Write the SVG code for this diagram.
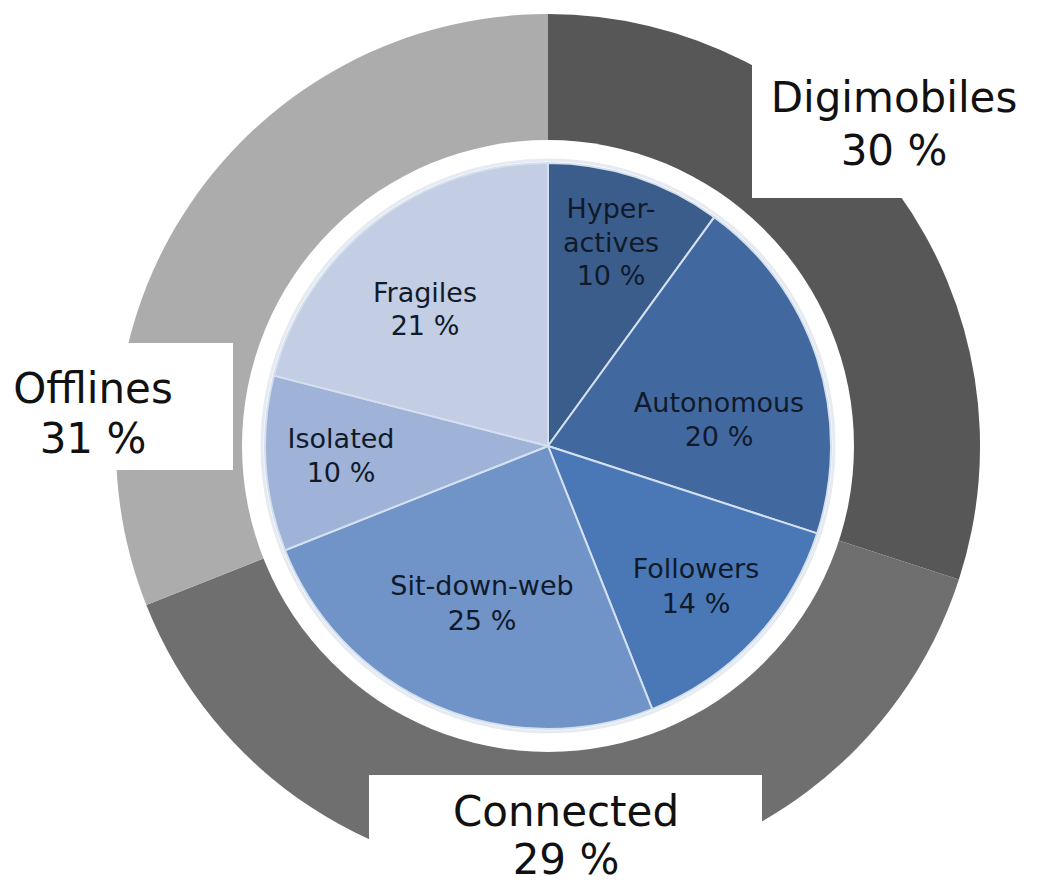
<svg xmlns="http://www.w3.org/2000/svg" width="1037" height="882" viewBox="0 0 1037 882">
<style>
.big{font-family:"DejaVu Sans","Liberation Sans",sans-serif;font-size:42px;fill:#111;text-anchor:middle}
.lbl{font-family:"DejaVu Sans","Liberation Sans",sans-serif;font-size:27px;fill:#101a2a;text-anchor:middle}
.sl{stroke:#d4e0ef;stroke-width:2;stroke-linejoin:round}
.box{fill:#ffffff}
</style>
<rect width="1037" height="882" fill="#ffffff"/>
<g id="ring">
<g id="ring-digimobiles"><path d="M548,446 L548,14 A432,432 0 0 1 958.9,579.5 Z" fill="#575757"/></g>
<g id="ring-connected"><path d="M548,446 L958.9,579.5 A432,432 0 0 1 146.3,605 Z" fill="#6f6f6f"/></g>
<g id="ring-offlines"><path d="M548,446 L146.3,605 A432,432 0 0 1 548,14 Z" fill="#acacac"/></g>
<circle cx="548" cy="446" r="306" fill="#ffffff"/>
<circle cx="548" cy="446" r="286" fill="none" stroke="#e6ebf2" stroke-width="3"/>
</g>
<g id="pie">
<g id="hyperactives"><path class="sl" d="M548,446 L548,163 A283,283 0 0 1 714.3,217.1 Z" fill="#3b5d8c"/></g>
<g id="autonomous"><path class="sl" d="M548,446 L714.3,217.1 A283,283 0 0 1 817.2,533.4 Z" fill="#4268a0"/></g>
<g id="followers"><path class="sl" d="M548,446 L817.2,533.4 A283,283 0 0 1 652.2,709.1 Z" fill="#4a78b6"/></g>
<g id="sitdownweb"><path class="sl" d="M548,446 L652.2,709.1 A283,283 0 0 1 284.9,550.2 Z" fill="#7093c8"/></g>
<g id="isolated"><path class="sl" d="M548,446 L284.9,550.2 A283,283 0 0 1 273.9,375.6 Z" fill="#9fb2d7"/></g>
<g id="fragiles"><path class="sl" d="M548,446 L273.9,375.6 A283,283 0 0 1 548,163 Z" fill="#c3cee4"/></g>
</g>
<g id="connectors"></g>
<g id="label-digimobiles">
<rect class="box" x="752" y="50" width="285" height="148"/>
<text class="big" x="894" y="112">Digimobiles</text>
<text class="big" x="894" y="165">30 %</text>
</g>
<g id="label-offlines">
<rect class="box" x="0" y="343" width="233" height="127"/>
<text class="big" x="93" y="403">Offlines</text>
<text class="big" x="93" y="453">31 %</text>
</g>
<g id="label-connected">
<rect class="box" x="369" y="775" width="393" height="107"/>
<text class="big" x="566" y="826">Connected</text>
<text class="big" x="566" y="874">29 %</text>
</g>
<g id="pie-labels">
<text class="lbl" x="611" y="218">Hyper-</text>
<text class="lbl" x="611" y="252">actives</text>
<text class="lbl" x="611" y="285">10 %</text>
<text class="lbl" x="425" y="302">Fragiles</text>
<text class="lbl" x="425" y="335">21 %</text>
<text class="lbl" x="719" y="412">Autonomous</text>
<text class="lbl" x="719" y="446">20 %</text>
<text class="lbl" x="341" y="448">Isolated</text>
<text class="lbl" x="341" y="482">10 %</text>
<text class="lbl" x="482" y="595">Sit-down-web</text>
<text class="lbl" x="482" y="630">25 %</text>
<text class="lbl" x="696" y="578">Followers</text>
<text class="lbl" x="696" y="613">14 %</text>
</g>
</svg>
